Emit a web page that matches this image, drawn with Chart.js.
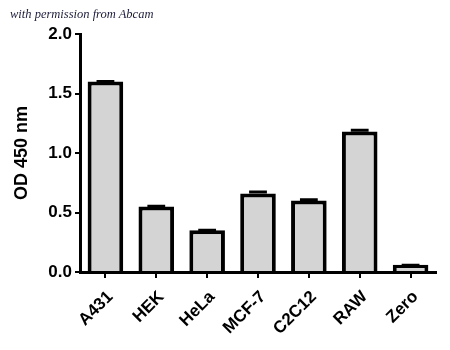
<!DOCTYPE html>
<html>
<head>
<meta charset="utf-8">
<script src="https://cdn.jsdelivr.net/npm/chart.js@4.4.1/dist/chart.umd.min.js"></script>
<style>
  html, body { margin: 0; padding: 0; background: #fff; }
  #wrap { position: relative; width: 450px; height: 350px; }
  #note {
    position: absolute; left: 10px; top: 7px;
    font: italic 12.5px "Liberation Serif", serif; color: #1c1c3a;
  }
</style>
</head>
<body>
<div id="wrap">
  <canvas id="odChart" width="450" height="350"></canvas>
  <div id="note">with permission from Abcam</div>
</div>
<script>
// cell lines and OD readings
const cellLines = ['A431', 'HEK', 'HeLa', 'MCF-7', 'C2C12', 'RAW', 'Zero'];
const odValues = [1.60, 0.55, 0.35, 0.66, 0.60, 1.18, 0.06];
const odErrors = [0.01, 0.01, 0.01, 0.02, 0.015, 0.02, 0.005];
const yTicks = [0, 0.5, 1.0, 1.5, 2.0];

// small black caps above each bar
const errorBars = {
    id: 'errorBars',
    afterDatasetsDraw(chart) {
        const ctx = chart.ctx;
        const y = chart.scales.y;
        const meta = chart.getDatasetMeta(0);
        ctx.save();
        ctx.strokeStyle = '#000';
        ctx.lineWidth = 3;
        meta.data.forEach(function(bar, i) {
            const top = y.getPixelForValue(odValues[i] + odErrors[i]);
            const base = y.getPixelForValue(odValues[i]);
            const half = bar.width / 4;
            ctx.beginPath();
            ctx.moveTo(bar.x, base);
            ctx.lineTo(bar.x, top);
            ctx.moveTo(bar.x - half, top + 1);
            ctx.lineTo(bar.x + half, top + 1);
            ctx.stroke();
        });
        ctx.restore();
    }
};

document.addEventListener('DOMContentLoaded', function() {
    const ctx = document.getElementById('odChart');
    const bold = { family: 'Liberation Sans, Arial, sans-serif', size: 17, weight: 'bold' };

    new Chart(ctx.getContext('2d'), {
        type: 'bar',
        data: {
            labels: cellLines,
            datasets: [{
                data: odValues,
                backgroundColor: '#d4d4d4',
                borderColor: '#000',
                borderWidth: 4,
                borderSkipped: 'start',
                categoryPercentage: 1,
                barPercentage: 0.7
            }]
        },
        options: {
            responsive: false,
            animation: false,
            layout: { padding: { top: 34, right: 14, left: 0, bottom: 0 } },
            plugins: { legend: { display: false }, tooltip: { enabled: false } },
            scales: {
                x: {
                    offset: true,
                    grid: {
                        drawOnChartArea: false, offset: false,
                        color: '#000', lineWidth: 2, tickLength: 6
                    },
                    border: { color: '#000', width: 3 },
                    ticks: {
                        color: '#000', font: bold,
                        minRotation: 45, maxRotation: 45,
                        padding: 9, labelOffset: 5
                    },
                    afterFit: function(scale) { scale.height = 78; }
                },
                y: {
                    min: 0,
                    max: 2,
                    afterBuildTicks: function(scale) {
                        scale.ticks = yTicks.map(function(v) { return { value: v }; });
                    },
                    grid: {
                        drawOnChartArea: false,
                        color: '#000', lineWidth: 2, tickLength: 5
                    },
                    border: { color: '#000', width: 3 },
                    ticks: {
                        color: '#000', font: bold, padding: 3,
                        callback: function(v) { return v.toFixed(1); }
                    },
                    title: {
                        display: true,
                        text: 'OD 450 nm',
                        color: '#000',
                        font: { family: 'Liberation Sans, Arial, sans-serif', size: 18, weight: 'bold' },
                        padding: { top: 11, bottom: 0 }
                    },
                    afterFit: function(scale) { scale.width = 80; }
                }
            }
        },
        plugins: [errorBars]
    });
});
</script>
</body>
</html>
